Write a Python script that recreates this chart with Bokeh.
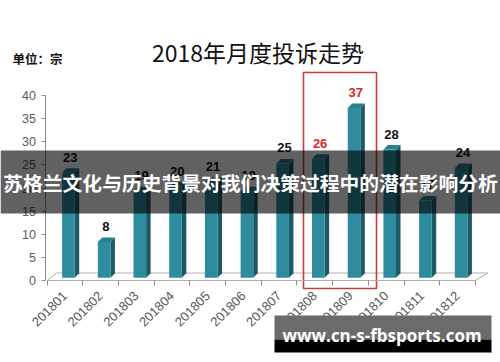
import math
from bokeh.plotting import figure
from bokeh.models import Range1d, LinearAxis, FixedTicker, BoxAnnotation, Label, ColumnDataSource
from bokeh.core.properties import value
from bokeh.embed import file_html
from bokeh.resources import INLINE

# ---------------- data ----------------
months = ["201801", "201802", "201803", "201804", "201805", "201806",
          "201807", "201808", "201809", "201810", "201811", "201812"]
counts = [23, 8, 19, 20, 21, 19, 25, 26, 37, 28, 17, 24]
highlight_months = ["201808", "201809"]
y_ticks = [0, 5, 10, 15, 20, 25, 30, 35, 40]
y_max = 40
title_text = "2018年月度投诉走势"
unit_text = "单位：宗"
banner_text = "苏格兰文化与历史背景对我们决策过程中的潜在影响分析"
watermark_text = "www.cn-s-fbsports.com"

# ---------------- layout helpers (page pixel -> data) ----------------
W, H = 500, 362
MARGIN = 0
PX_PER_X = 35.7
PX_PER_Y = 4.625
X0 = 64.35   # page px of category index 0
Y0 = 280.0   # page px of value 0


def xd(px):
    return (px - X0) / PX_PER_X


def yd(py):
    return (Y0 - py) / PX_PER_Y


p = figure(width=W, height=H, output_backend="svg", toolbar_location=None,
           x_range=Range1d(xd(MARGIN), xd(MARGIN + W)),
           y_range=Range1d(yd(MARGIN + H), yd(MARGIN)),
           min_border=0, x_axis_type=None, y_axis_type=None)
p.outline_line_color = None
p.background_fill_color = "white"
p.border_fill_color = "white"

idx = list(range(len(months)))
n = len(months)

# 3D geometry (screen-based offsets converted to data units)
bar_half = 6.3 / PX_PER_X
front_shift = 0.1
depth_dx = 4.5 / PX_PER_X
depth_dy = 4.5 / PX_PER_Y
base = 0.6
top_pad = 0.3

fl = [i + front_shift - bar_half for i in idx]
fr = [i + front_shift + bar_half for i in idx]
ft = [c + top_pad for c in counts]
fb = [base] * n

# floor
floor_dx = 11 / PX_PER_X
floor_dy = 7.5 / PX_PER_Y
p.line([-0.5 + floor_dx * 0.85, n - 0.5 + floor_dx * 1.15], [floor_dy, floor_dy],
       line_color="#b0b0b0", line_width=1)
p.multi_line([[-0.5, -0.5 + floor_dx * 0.85], [n - 0.5, n - 0.5 + floor_dx * 1.15]],
             [[0, floor_dy], [0, floor_dy]], line_color="#b0b0b0", line_width=1)

# side faces
side_xs = [[r, r + depth_dx, r + depth_dx, r] for r in fr]
side_ys = [[b, b + depth_dy, t + depth_dy, t] for b, t in zip(fb, ft)]
p.patches(side_xs, side_ys, fill_color="#1d5a67", line_color=None)
# top faces
top_xs = [[l, r, r + depth_dx, l + depth_dx] for l, r in zip(fl, fr)]
top_ys = [[t, t, t + depth_dy, t + depth_dy] for t in ft]
p.patches(top_xs, top_ys, fill_color="#2a7f90", line_color=None)
# front faces
p.quad(left=fl, right=fr, bottom=fb, top=ft, fill_color="#2f8b9e", line_color=None)

# value labels
label_colors = ["#d42a2a" if m in highlight_months else "#111111" for m in months]
src = ColumnDataSource(dict(x=[i + front_shift + 0.05 for i in idx], y=counts,
                            t=[str(c) for c in counts], c=label_colors))
p.text(x="x", y="y", text="t", source=src, text_color="c", y_offset=-17,
       text_align="center", text_baseline="middle",
       text_font=value("Liberation Sans"), text_font_size="13px", text_font_style="bold")

# highlight rectangle
hi = [months.index(m) for m in highlight_months]
p.quad(left=[min(hi) - 0.315], right=[max(hi) + 0.73], bottom=[yd(288)], top=[yd(72)],
       fill_color=None, line_color="#cc3b3b", line_width=1.6)

# axes
yax = LinearAxis(ticker=FixedTicker(ticks=y_ticks), bounds=(0, y_max), fixed_location=-0.53)
yax.axis_line_color = "#8c8c8c"
yax.major_tick_line_color = "#8c8c8c"
yax.major_tick_out = 4
yax.major_tick_in = 0
yax.minor_tick_line_color = None
yax.major_label_text_font = "Liberation Sans"
yax.major_label_text_font_size = "12.5px"
yax.major_label_text_color = "#595959"
yax.major_label_standoff = 6
p.add_layout(yax, "left")

xax = LinearAxis(ticker=FixedTicker(ticks=idx, minor_ticks=[i - 0.5 for i in range(n + 1)]),
                 bounds=(-0.5, n - 0.5), fixed_location=0)
xax.major_label_overrides = {i: m for i, m in zip(idx, months)}
xax.axis_line_color = "#b0b0b0"
xax.major_tick_line_color = None
xax.major_tick_out = 0
xax.major_tick_in = 0
xax.minor_tick_line_color = "#8c8c8c"
xax.minor_tick_out = 5
xax.minor_tick_in = 0
xax.major_label_orientation = math.pi / 4
xax.major_label_text_font = "Liberation Sans"
xax.major_label_text_font_size = "13px"
xax.major_label_text_color = "#595959"
xax.major_label_standoff = 8
p.add_layout(xax, "below")

# title and unit
p.add_layout(Label(x=xd(257.5), y=yd(51), text=title_text, text_align="center",
                   text_baseline="middle", text_font="Noto Sans CJK SC",
                   text_font_size="23px", text_color="#111111"))
p.add_layout(Label(x=xd(12), y=yd(58), text=unit_text, text_align="left",
                   text_baseline="middle", text_font="Noto Sans CJK SC",
                   text_font_size="12.5px", text_font_style="bold", text_color="#111111"))

# banner overlay
p.add_layout(BoxAnnotation(left=xd(0), right=xd(W), top=yd(150), bottom=yd(213),
                           fill_color="black", fill_alpha=0.62, line_color=None))
p.add_layout(Label(x=xd(250), y=yd(181.5), text=banner_text, text_align="center",
                   text_baseline="middle", text_font="Noto Sans CJK SC",
                   text_font_size="19.8px", text_font_style="bold", text_color="white"))

# watermark
p.add_layout(BoxAnnotation(left=xd(274), right=xd(491), top=yd(315), bottom=yd(339),
                           fill_color="#6b6b6b", fill_alpha=1, line_color=None))
p.add_layout(BoxAnnotation(left=xd(274), right=xd(491), top=yd(339), bottom=yd(352),
                           fill_color="black", fill_alpha=1, line_color=None))
p.add_layout(Label(x=xd(381.5), y=yd(335), text=watermark_text, text_align="center",
                   text_baseline="middle", text_font="Open Sans",
                   text_font_size="17px", text_font_style="bold", text_color="white"))

open("out.html", "w").write(file_html(p, INLINE))
